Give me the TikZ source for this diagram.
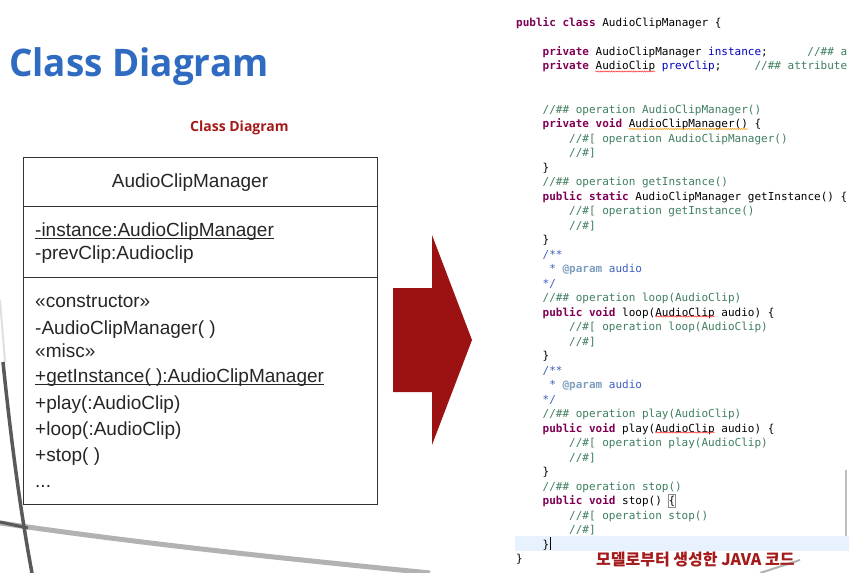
\documentclass[tikz,border=0pt]{standalone}
\usepackage{fontspec}
\setmainfont{Liberation Sans}
\newfontfamily\titlefont{Open Sans}
\newfontfamily\codefont{DejaVu Sans Mono}
\newfontfamily\krfont{Noto Sans CJK KR}
\usetikzlibrary{decorations.pathmorphing}
\definecolor{titleblue}{HTML}{2F6BC0}
\definecolor{darkred}{HTML}{A51A1A}
\definecolor{arrowred}{HTML}{9C1111}
\definecolor{kwc}{HTML}{7F0055}
\definecolor{cmc}{HTML}{3F7F5F}
\definecolor{docc}{HTML}{3F5FBF}
\definecolor{tagc}{HTML}{7F9FBF}
\definecolor{fldc}{HTML}{0000C0}
\definecolor{boxline}{HTML}{333333}
\definecolor{hlc}{HTML}{E8F2FE}
\newcommand\kw[1]{{\bfseries\color{kwc}#1}}
\newcommand\cm[1]{{\color{cmc}#1}}
\newcommand\dc[1]{{\color{docc}#1}}
\newcommand\fl[1]{{\color{fldc}#1}}
\newcommand\cl[3]{\node[code] (c#1) at ({516+#2*6.62},{26+14.5*#1}) {#3};}
\tikzset{
  classpart/.style={draw=boxline, line width=1.4pt, fill=white, anchor=north west, minimum width=354pt, inner sep=0pt},
  umltext/.style={anchor=base west, inner sep=0pt, font=\fontsize{19}{21}\selectfont, text=black!85},
  code/.style={anchor=base west, inner sep=0pt, font=\codefont\fontsize{11}{12}\selectfont},
  squig/.style={decorate, decoration={snake, segment length=2.2pt, amplitude=0.6pt}, line width=0.5pt},
}
\begin{document}
\begin{tikzpicture}[x=1pt, y=-1pt]
\useasboundingbox (0,0) rectangle (849,573);
\fill[white] (0,0) rectangle (849,573);
% background decoration
\draw[black!30, line width=5pt] (0,523) .. controls (150,545) and (300,560) .. (430,573);
\draw[black!65, line width=3pt] (0,522) -- (28,528);
\draw[black!12, line width=2pt] (0,300) -- (5,362);
\draw[black!65, line width=3.5pt] (3,362) .. controls (12,450) and (22,520) .. (32,573);
\draw[black!25, line width=2pt] (846,470) -- (846,540);
\draw[black!30, line width=2pt] (760,573) -- (800,560);
% titles
\node[anchor=base west, inner sep=0pt, text=titleblue] (title) at (9,76)
  {\titlefont\bfseries\fontsize{38}{40}\selectfont\scalebox{0.97}[1]{Class Diagram}};
\node[anchor=base west, inner sep=0pt, text=darkred] (subtitle) at (190,131.5)
  {\titlefont\bfseries\fontsize{14}{16}\selectfont Class Diagram};
% class box
\node[classpart, minimum height=49pt] (hdr) at (23,157) {};
\node[classpart, minimum height=71pt] (attrs) at (23,206) {};
\node[classpart, minimum height=227pt] (ops) at (23,277) {};
\node[umltext, anchor=base] (cname) at (190,187) {AudioClipManager};
\node[umltext] (a1) at (35,236) {-instance:AudioClipManager};
\draw[black!85, line width=0.8pt] ([yshift=-2.5pt]a1.base west) -- ([yshift=-2.5pt]a1.base east);
\node[umltext] (a2) at (35,259) {-prevClip:Audioclip};
\node[umltext] (o1) at (35,307) {«constructor»};
\node[umltext] (o2) at (35,334) {-AudioClipManager( )};
\node[umltext] (o3) at (35,357) {«misc»};
\node[umltext] (o4) at (35,382) {+getInstance( ):AudioClipManager};
\draw[black!85, line width=0.8pt] ([yshift=-2.5pt]o4.base west) -- ([yshift=-2.5pt]o4.base east);
\node[umltext] (o5) at (35,409) {+play(:AudioClip)};
\node[umltext] (o6) at (35,435) {+loop(:AudioClip)};
\node[umltext] (o7) at (35,461) {+stop( )};
\node[umltext] (o8) at (35,487) {...};
% block arrow
\fill[arrowred] (393,288) -- (432,288) -- (432,235) -- (472,340) -- (432,445) -- (432,392) -- (393,392) -- cycle;
% code panel
\fill[hlc] (515,536) rectangle (849,551);
\cl{0}{0}{\kw{public class} AudioClipManager \{}
\cl{2}{4}{\kw{private} AudioClipManager \fl{instance};}
\node[code] (c2b) at ({516+44*6.62},55) {\cm{//\#\# a}};
\cl{3}{4}{\kw{private} AudioClip \fl{prevClip};}
\node[code] (c3b) at ({516+36*6.62},69.5) {\cm{//\#\# attribute}};
\cl{6}{4}{\cm{//\#\# operation AudioClipManager()}}
\cl{7}{4}{\kw{private void} AudioClipManager() \{}
\cl{8}{8}{\cm{//\#[ operation AudioClipManager()}}
\cl{9}{8}{\cm{//\#]}}
\cl{10}{4}{\}}
\cl{11}{4}{\cm{//\#\# operation getInstance()}}
\cl{12}{4}{\kw{public static} AudioClipManager getInstance() \{}
\cl{13}{8}{\cm{//\#[ operation getInstance()}}
\cl{14}{8}{\cm{//\#]}}
\cl{15}{4}{\}}
\cl{16}{4}{\dc{/**}}
\cl{17}{5}{\dc{* {\bfseries\color{tagc}@param} audio}}
\cl{18}{4}{\dc{*/}}
\cl{19}{4}{\cm{//\#\# operation loop(AudioClip)}}
\cl{20}{4}{\kw{public void} loop(AudioClip audio) \{}
\cl{21}{8}{\cm{//\#[ operation loop(AudioClip)}}
\cl{22}{8}{\cm{//\#]}}
\cl{23}{4}{\}}
\cl{24}{4}{\dc{/**}}
\cl{25}{5}{\dc{* {\bfseries\color{tagc}@param} audio}}
\cl{26}{4}{\dc{*/}}
\cl{27}{4}{\cm{//\#\# operation play(AudioClip)}}
\cl{28}{4}{\kw{public void} play(AudioClip audio) \{}
\cl{29}{8}{\cm{//\#[ operation play(AudioClip)}}
\cl{30}{8}{\cm{//\#]}}
\cl{31}{4}{\}}
\cl{32}{4}{\cm{//\#\# operation stop()}}
\cl{33}{4}{\kw{public void} stop() \{}
\cl{34}{8}{\cm{//\#[ operation stop()}}
\cl{35}{8}{\cm{//\#]}}
\cl{36}{4}{\}}
\cl{37}{0}{\}}
% squiggly marks
\draw[squig, red!80] ({516+12*6.62},71.5) -- ({516+21*6.62},71.5);
\draw[squig, orange!80!yellow] ({516+17*6.62},129) -- ({516+35*6.62},129);
\draw[squig, red!80] ({516+21*6.62},316.5) -- ({516+30*6.62},316.5);
\draw[squig, red!80] ({516+21*6.62},432.5) -- ({516+30*6.62},432.5);
% bracket match box and cursor
\draw[black!45, line width=0.5pt] ({516+23*6.62-0.5},494) rectangle ({516+24*6.62},507);
\draw[black, line width=1pt] (550,537) -- (550,550);
% korean caption
\node[anchor=base west, inner sep=0pt, text=darkred] (caption) at (596,565)
  {\krfont\bfseries\fontsize{16}{18}\selectfont 모델로부터 생성한 JAVA 코드};
\end{tikzpicture}
\end{document}
